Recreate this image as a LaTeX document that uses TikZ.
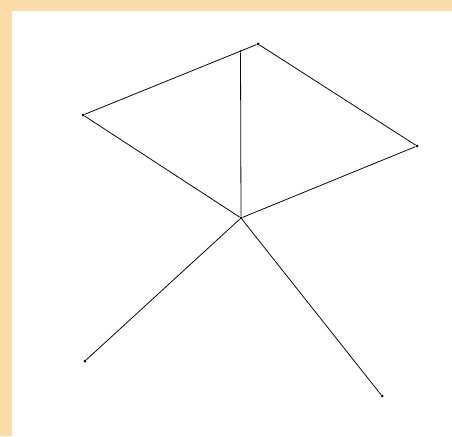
\documentclass[tikz,border=0pt]{standalone}
\usepackage{tikz}
\usetikzlibrary{calc}
\definecolor{peachframe}{HTML}{FBDCA8}
\definecolor{edgeink}{HTML}{0A0A0A}

\begin{document}
\begin{tikzpicture}[
  x=1pt, y=-1pt,
  vertex/.style={
    circle,
    fill=black,
    inner sep=0pt,
    minimum size=3pt
  },
  edge/.style={
    line width=0.8pt,
    draw=edgeink
  }
]

  % Canvas and frame strips
  \useasboundingbox (0,0) rectangle (452,436);
  \fill[white] (0,0) rectangle (452,436);
  \fill[peachframe] (0,0) rectangle (452,11);
  \fill[peachframe] (0,0) rectangle (12,436);

  % --- Vertices ---
  \node[vertex] (top) at (258,44) {};
  \node[vertex] (left) at (83,115) {};
  \node[vertex] (right) at (417,146) {};
  \node[vertex] (ctr) at (241,218) {};
  \node[vertex] (foot1) at (85,361) {};
  \node[vertex] (foot2) at (382,396) {};
  \node[vertex, minimum size=2pt] (mid) at ($(left)!0.9!(top)$) {};

  % --- Upper quadrilateral ---
  \draw[edge] (left) -- (top);
  \draw[edge] (top) -- (right);
  \draw[edge] (right) -- (ctr);
  \draw[edge] (ctr) -- (left);
  \draw[edge] (ctr) -- (mid);

  % --- Legs ---
  \draw[edge] (ctr) -- (foot1);
  \draw[edge] (ctr) -- (foot2);

\end{tikzpicture}
\end{document}
